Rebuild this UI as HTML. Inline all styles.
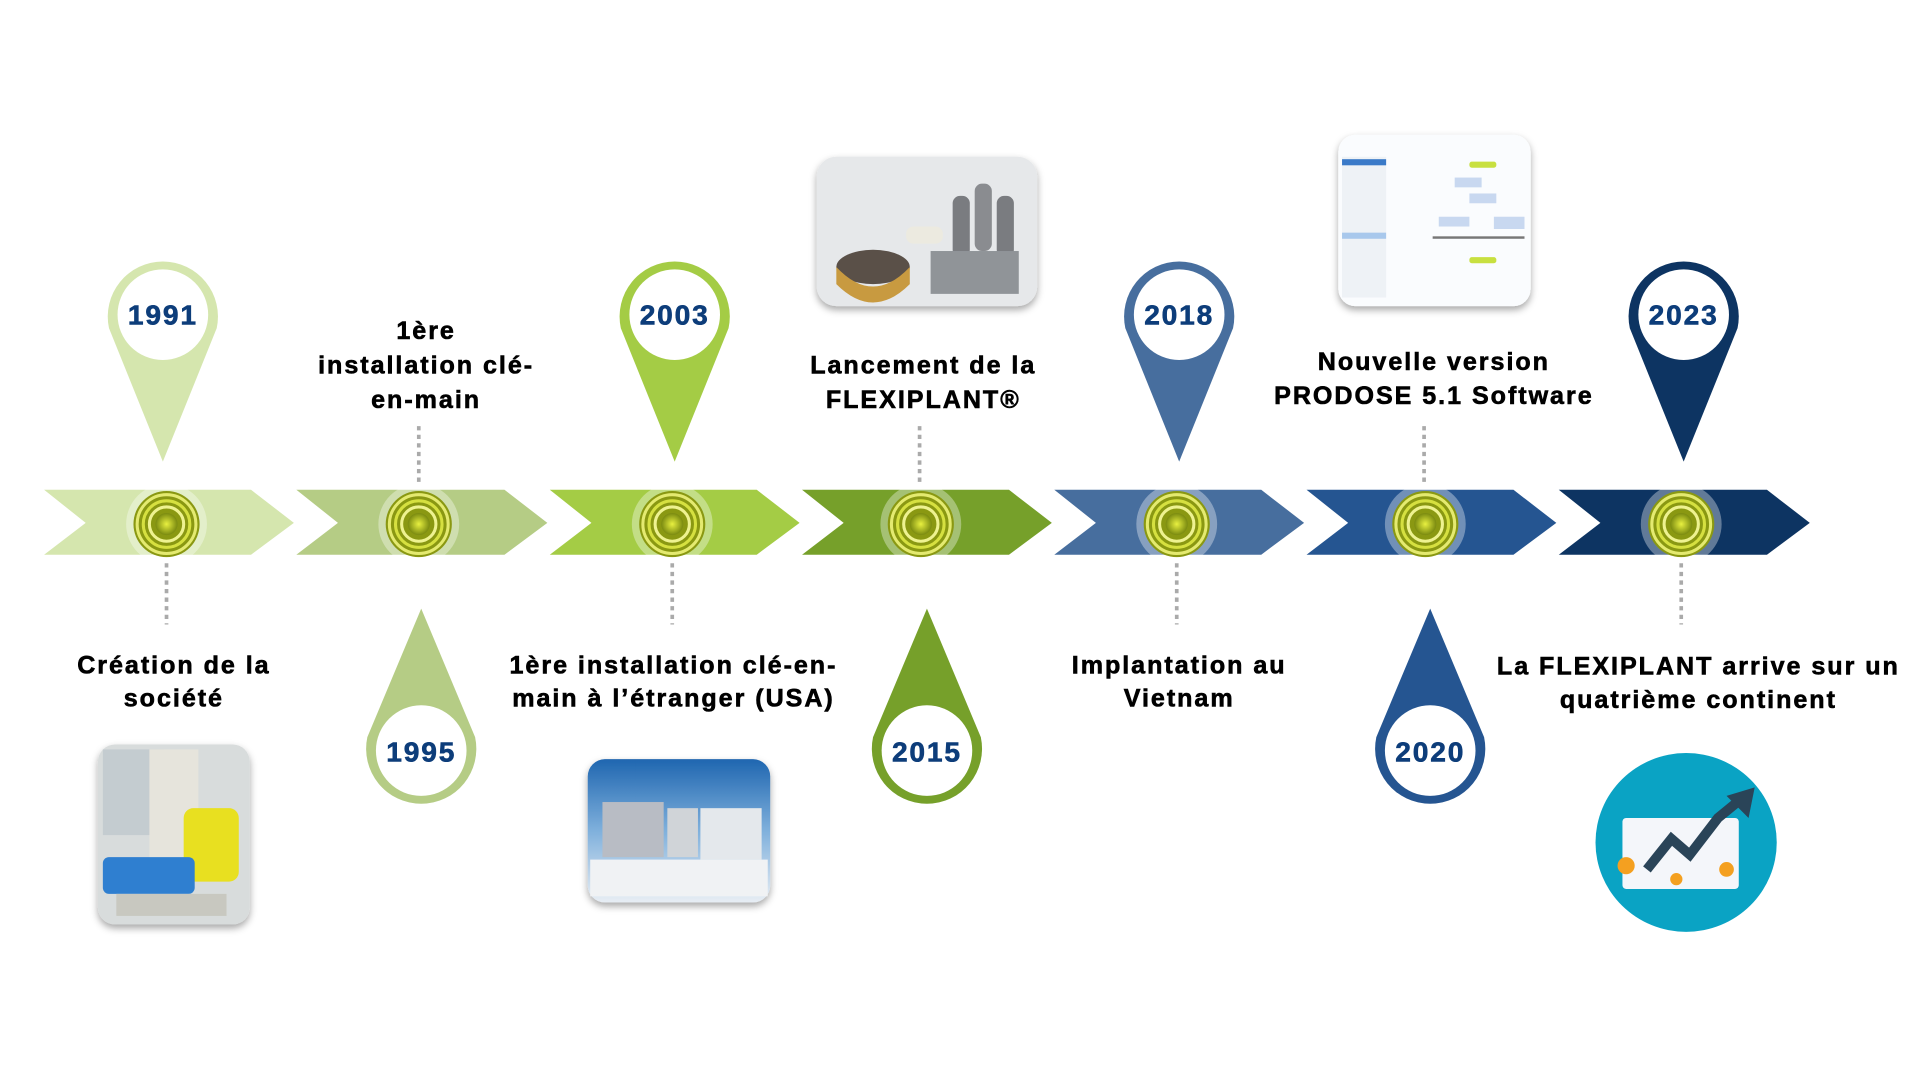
<!DOCTYPE html>
<html><head><meta charset="utf-8"><style>
html,body{margin:0;padding:0;background:#fff;width:1920px;height:1080px;overflow:hidden}
text{font-family:"Liberation Sans",sans-serif;font-weight:bold}
.t{font-size:20.5px;fill:#000;text-anchor:middle;letter-spacing:1.6px;stroke:#000;stroke-width:0.5px}
.y{font-size:23px;fill:#0d3d7a;text-anchor:middle;letter-spacing:1.5px;stroke:#0d3d7a;stroke-width:0.5px}
.d{stroke:#aaa;stroke-width:3;stroke-dasharray:3.5 3.5}
</style></head><body>
<svg width="1920" height="1080" viewBox="0 0 1568 882" xmlns="http://www.w3.org/2000/svg">
<defs>
<radialGradient id="tg"><stop offset="0" stop-color="#e8f040"/><stop offset="1" stop-color="#7a8a10"/></radialGradient>
<g id="tgt">
<circle r="33" fill="#fff" opacity="0.35"/>
<circle r="27" fill="#8a9812"/>
<circle r="24" fill="none" stroke="#e4ea70" stroke-width="2.5"/>
<circle r="19" fill="none" stroke="#d6e040" stroke-width="2.5"/>
<circle r="14" fill="none" stroke="#eef290" stroke-width="2.5"/>
<circle r="9" fill="url(#tg)"/>
</g>
<linearGradient id="sky" x1="0" y1="0" x2="0" y2="1"><stop offset="0" stop-color="#1f66b0"/><stop offset="0.5" stop-color="#7fb0dc"/><stop offset="1" stop-color="#e8eef4"/></linearGradient>
<filter id="sh"><feDropShadow dx="0" dy="3" stdDeviation="3" flood-color="#000" flood-opacity="0.35"/></filter>
</defs>

<polygon points="36,400 205,400 240,427 205,453 36,453 70,427" fill="#d5e6ae"/>
<polygon points="242,400 412,400 447,427 412,453 242,453 276,427" fill="#b5cc85"/>
<polygon points="449,400 618,400 653,427 618,453 449,453 483,427" fill="#a4cc45"/>
<polygon points="655,400 824,400 859,427 824,453 655,453 689,427" fill="#76a02a"/>
<polygon points="861,400 1030,400 1065,427 1030,453 861,453 895,427" fill="#476e9e"/>
<polygon points="1067,400 1236,400 1271,427 1236,453 1067,453 1101,427" fill="#255591"/>
<polygon points="1273,400 1443,400 1478,427 1443,453 1273,453 1307,427" fill="#0d3462"/>

<use href="#tgt" x="136" y="428"/>
<use href="#tgt" x="342" y="428"/>
<use href="#tgt" x="549" y="428"/>
<use href="#tgt" x="752" y="428"/>
<use href="#tgt" x="961" y="428"/>
<use href="#tgt" x="1164" y="428"/>
<use href="#tgt" x="1373" y="428"/>

<line class="d" x1="342" y1="348" x2="342" y2="396"/>
<line class="d" x1="751" y1="348" x2="751" y2="396"/>
<line class="d" x1="1163" y1="348" x2="1163" y2="396"/>
<line class="d" x1="136" y1="460" x2="136" y2="510"/>
<line class="d" x1="549" y1="460" x2="549" y2="510"/>
<line class="d" x1="961" y1="460" x2="961" y2="510"/>
<line class="d" x1="1373" y1="460" x2="1373" y2="510"/>

<path d="M89,268 A45,45 0 1,1 177,268 L133,377 Z" fill="#d5e6ae"/><circle cx="133" cy="257" r="37" fill="#fff"/><text class="y" x="133" y="265">1991</text>
<path d="M507,268 A45,45 0 1,1 595,268 L551,377 Z" fill="#a4cc45"/><circle cx="551" cy="257" r="37" fill="#fff"/><text class="y" x="551" y="265">2003</text>
<path d="M919,268 A45,45 0 1,1 1007,268 L963,377 Z" fill="#476e9e"/><circle cx="963" cy="257" r="37" fill="#fff"/><text class="y" x="963" y="265">2018</text>
<path d="M1331,268 A45,45 0 1,1 1419,268 L1375,377 Z" fill="#0d3462"/><circle cx="1375" cy="257" r="37" fill="#fff"/><text class="y" x="1375" y="265">2023</text>

<path d="M300,602 A45,45 0 1,0 388,602 L344,497 Z" fill="#b5cc85"/><circle cx="344" cy="613" r="37" fill="#fff"/><text class="y" x="344" y="622">1995</text>
<path d="M713,602 A45,45 0 1,0 801,602 L757,497 Z" fill="#76a02a"/><circle cx="757" cy="613" r="37" fill="#fff"/><text class="y" x="757" y="622">2015</text>
<path d="M1124,602 A45,45 0 1,0 1212,602 L1168,497 Z" fill="#255591"/><circle cx="1168" cy="613" r="37" fill="#fff"/><text class="y" x="1168" y="622">2020</text>

<text class="t" x="348" y="277">1ère</text>
<text class="t" x="348" y="305">installation clé-</text>
<text class="t" x="348" y="333">en-main</text>
<text class="t" x="754" y="305">Lancement de la</text>
<text class="t" x="754" y="333">FLEXIPLANT®</text>
<text class="t" x="1171" y="302">Nouvelle version</text>
<text class="t" x="1171" y="330">PRODOSE 5.1 Software</text>
<text class="t" x="142" y="550">Création de la</text>
<text class="t" x="142" y="577">société</text>
<text class="t" x="550" y="550">1ère installation clé-en-</text>
<text class="t" x="550" y="577">main à l’étranger (USA)</text>
<text class="t" x="963" y="550">Implantation au</text>
<text class="t" x="963" y="577">Vietnam</text>
<text class="t" x="1387" y="551">La FLEXIPLANT arrive sur un</text>
<text class="t" x="1387" y="578">quatrième continent</text>

<g filter="url(#sh)">
<rect x="80" y="608" width="124" height="147" rx="14" fill="#d8dcdc"/>
</g>
<rect x="84" y="612" width="50" height="70" fill="#c4ccd0"/>
<rect x="122" y="612" width="40" height="90" fill="#e6e4dc"/>
<rect x="150" y="660" width="45" height="60" rx="8" fill="#e8e020"/>
<rect x="84" y="700" width="75" height="30" rx="5" fill="#2f7fd0"/>
<rect x="95" y="730" width="90" height="18" fill="#c8c8c0"/>
<g filter="url(#sh)">
<rect x="480" y="620" width="149" height="117" rx="14" fill="url(#sky)"/>
</g>
<rect x="492" y="655" width="50" height="45" fill="#b8bcc4"/>
<rect x="545" y="660" width="25" height="40" fill="#d0d4d8"/>
<rect x="572" y="660" width="50" height="42" fill="#e4e8ec"/>
<rect x="482" y="702" width="145" height="30" fill="#f0f2f4"/>
<g filter="url(#sh)">
<rect x="667" y="128" width="180" height="122" rx="16" fill="#e6e8ea"/>
</g>
<ellipse cx="713" cy="218" rx="30" ry="14" fill="#5a5048"/>
<path d="M683,218 Q713,250 743,218 L743,232 Q713,262 683,232 Z" fill="#c89a40"/>
<rect x="778" y="160" width="14" height="50" rx="6" fill="#7a7c80"/>
<rect x="796" y="150" width="14" height="55" rx="6" fill="#8a8c90"/>
<rect x="814" y="160" width="14" height="50" rx="6" fill="#7a7c80"/>
<rect x="760" y="205" width="72" height="35" fill="#909498"/>
<rect x="740" y="185" width="30" height="14" rx="6" fill="#eceae0"/>
<g filter="url(#sh)">
<rect x="1093" y="110" width="157" height="140" rx="14" fill="#fafcfe"/>
</g>
<rect x="1096" y="128" width="36" height="115" fill="#eef2f6"/>
<rect x="1096" y="130" width="36" height="5" fill="#3a7ac8"/>
<rect x="1096" y="190" width="36" height="5" fill="#a8c8ec"/>
<rect x="1200" y="132" width="22" height="5" rx="2" fill="#c8e040"/>
<rect x="1188" y="145" width="22" height="8" fill="#c8d8f0"/>
<rect x="1200" y="158" width="22" height="8" fill="#c8d8f0"/>
<rect x="1175" y="177" width="25" height="8" fill="#c8d8f0"/>
<rect x="1220" y="177" width="25" height="10" fill="#c8d8f0"/>
<rect x="1170" y="193" width="75" height="2" fill="#777"/>
<rect x="1200" y="210" width="22" height="5" rx="2" fill="#c8e040"/>
<ellipse cx="1377" cy="688" rx="74" ry="73" fill="#0aa3c4"/>
<rect x="1325" y="668" width="95" height="58" rx="3" fill="#f4f6fa"/>
<polyline points="1345,710 1365,685 1380,698 1403,668 1425,650" fill="none" stroke="#2a4458" stroke-width="8"/>
<polygon points="1410,650 1433,643 1428,668" fill="#2a4458"/>
<circle cx="1328" cy="707" r="7" fill="#f4a020"/>
<circle cx="1369" cy="718" r="5" fill="#f4a020"/>
<circle cx="1410" cy="710" r="6" fill="#f4a020"/>
</svg>
</body></html>
